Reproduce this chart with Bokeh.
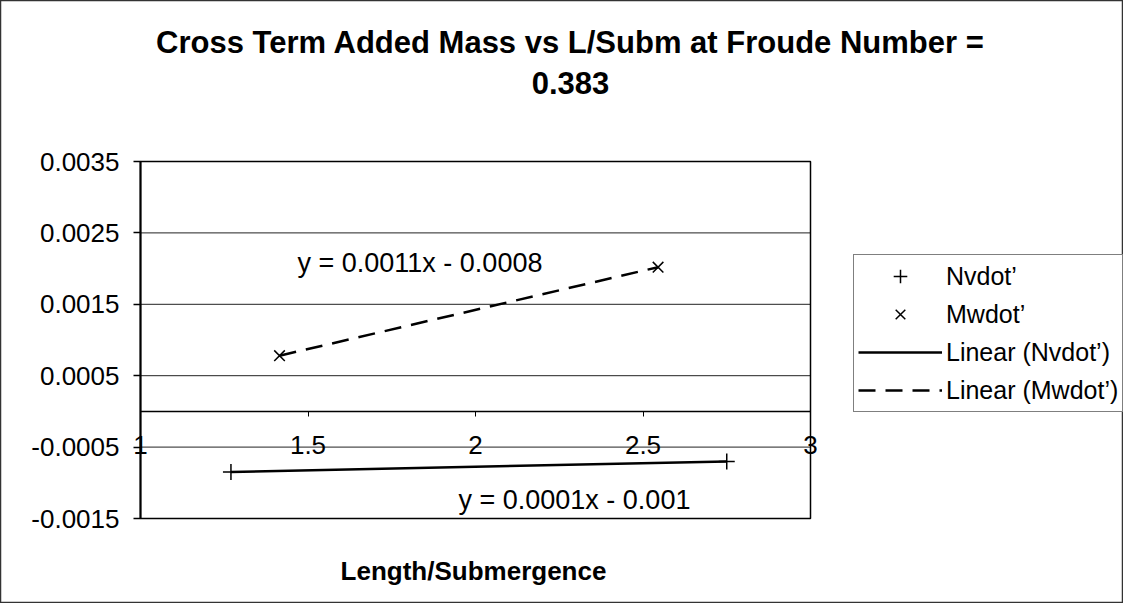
import numpy as np
from bokeh.plotting import figure
from bokeh.models import (Range1d, FixedTicker, Legend, LegendItem, Label, LinearAxis,
                          NumeralTickFormatter)
from bokeh.embed import file_html
from bokeh.resources import INLINE

# ---- data ----
title_lines = ["Cross Term Added Mass vs L/Subm at Froude Number =", "0.383"]
x_title = "Length/Submergence"
nv_name = "Nvdot\u2019"
mw_name = "Mwdot\u2019"
nv_x = [1.27, 2.75]
nv_y = [-0.00085, -0.00070]
mw_x = [1.415, 2.545]
mw_y = [0.00078, 0.00202]
y_ticks = [-0.0015, -0.0005, 0.0005, 0.0015, 0.0025, 0.0035]
x_ticks = [1, 1.5, 2, 2.5, 3]
x_tick_labels = ["1", "1.5", "2", "2.5", "3"]
eq_nv = "y = 0.0001x - 0.001"
eq_mw = "y = 0.0011x - 0.0008"

X_MIN, X_MAX = 1, 3
Y_MIN, Y_MAX = -0.0015, 0.0035

FONT = "Liberation Sans"

# plot area in page pixels (used only to place the frame and free text)
FL, FR, FT, FB = 140, 810, 161, 518
W, H = 1123, 603


def wx(px):
    return X_MIN + (px - FL) / (FR - FL) * (X_MAX - X_MIN)


def wy(py):
    return Y_MIN + (FB - py) / (FB - FT) * (Y_MAX - Y_MIN)


p = figure(width=W, height=H, x_range=Range1d(wx(0), wx(W)), y_range=Range1d(wy(H), wy(0)),
           output_backend="svg", toolbar_location=None, title=None,
           x_axis_location=None, y_axis_location=None,
           min_border_left=0, min_border_right=0, min_border_top=0, min_border_bottom=0)
p.background_fill_color = "white"
p.border_fill_color = "white"
p.outline_line_color = "#333333"
p.outline_line_width = 1.5
p.xgrid.visible = False
p.ygrid.visible = False

# gridlines of the plot area
p.segment(x0=[X_MIN] * len(y_ticks), x1=[X_MAX] * len(y_ticks), y0=y_ticks, y1=y_ticks,
          line_color="#222222", line_width=1)
# plot area border
p.quad(left=[X_MIN], right=[X_MAX], bottom=[Y_MIN], top=[Y_MAX], fill_color=None,
       line_color="black", line_width=1.5)

# y axis at x = 1
ya = LinearAxis(fixed_location=X_MIN, bounds=(Y_MIN, Y_MAX),
                ticker=FixedTicker(ticks=y_ticks, minor_ticks=[]),
                formatter=NumeralTickFormatter(format="0.0000"))
ya.major_tick_out = 7
ya.major_tick_in = 0
ya.minor_tick_out = 0
ya.minor_tick_in = 0
ya.major_tick_line_color = "black"
ya.major_tick_line_width = 1.5
ya.axis_line_color = "black"
ya.axis_line_width = 2
ya.major_label_text_font = FONT
ya.major_label_text_font_size = "26px"
ya.major_label_text_color = "black"
ya.major_label_standoff = 14
p.add_layout(ya, "left")

# x axis crossing at y = 0
xa = LinearAxis(fixed_location=0, bounds=(X_MIN, X_MAX),
                ticker=FixedTicker(ticks=x_ticks, minor_ticks=[]))
xa.major_label_overrides = {float(t): s for t, s in zip(x_ticks, x_tick_labels)}
xa.major_tick_out = 5
xa.major_tick_in = 0
xa.minor_tick_out = 0
xa.minor_tick_in = 0
xa.major_tick_line_color = "black"
xa.major_tick_line_width = 1
xa.axis_line_color = "black"
xa.axis_line_width = 1.5
xa.major_label_text_font = FONT
xa.major_label_text_font_size = "26px"
xa.major_label_text_color = "black"
xa.major_label_standoff = 20
p.add_layout(xa, "below")

# series
r_nv = p.scatter(nv_x, nv_y, marker="cross", size=16, line_color="black", line_width=1.5)
r_mw = p.scatter(mw_x, mw_y, marker="x", size=15, line_color="black", line_width=1.5)

# linear trendlines
k1, b1 = np.polyfit(nv_x, nv_y, 1)
k2, b2 = np.polyfit(mw_x, mw_y, 1)
tx1 = np.array([min(nv_x), max(nv_x)])
tx2 = np.array([min(mw_x), max(mw_x)])
r_l1 = p.line(tx1, k1 * tx1 + b1, line_color="black", line_width=2.5)
r_l2 = p.line(tx2, k2 * tx2 + b2, line_color="black", line_width=2.5, line_dash="17 10")

# equations
p.add_layout(Label(x=wx(297), y=wy(262), text=eq_mw, text_align="left", text_baseline="middle",
                   text_font=FONT, text_font_size="27px", text_color="black"))
p.add_layout(Label(x=wx(458), y=wy(499), text=eq_nv, text_align="left", text_baseline="middle",
                   text_font=FONT, text_font_size="27px", text_color="black"))

# titles
p.add_layout(Label(x=wx(570), y=wy(42), text=title_lines[0], text_align="center",
                   text_baseline="middle", text_font=FONT, text_font_size="31px",
                   text_font_style="bold", text_color="black"))
p.add_layout(Label(x=wx(570), y=wy(82), text=title_lines[1], text_align="center",
                   text_baseline="middle", text_font=FONT, text_font_size="31px",
                   text_font_style="bold", text_color="black"))
p.add_layout(Label(x=wx(473), y=wy(570), text=x_title, text_align="center",
                   text_baseline="middle", text_font=FONT, text_font_size="26px",
                   text_font_style="bold", text_color="black"))

legend = Legend(items=[LegendItem(label=nv_name, renderers=[r_nv]),
                       LegendItem(label=mw_name, renderers=[r_mw]),
                       LegendItem(label="Linear (" + nv_name + ")", renderers=[r_l1]),
                       LegendItem(label="Linear (" + mw_name + ")", renderers=[r_l2])],
                location=(853, H - 412))
legend.border_line_color = "black"
legend.border_line_width = 1
legend.background_fill_color = "white"
legend.background_fill_alpha = 1
legend.label_text_font = FONT
legend.label_text_font_size = "25px"
legend.label_text_color = "black"
legend.glyph_width = 84
legend.glyph_height = 34
legend.label_height = 34
legend.spacing = 4
legend.padding = 4
legend.margin = 0
legend.label_standoff = 4
p.add_layout(legend)

open("out.html", "w").write(file_html(p, INLINE))
